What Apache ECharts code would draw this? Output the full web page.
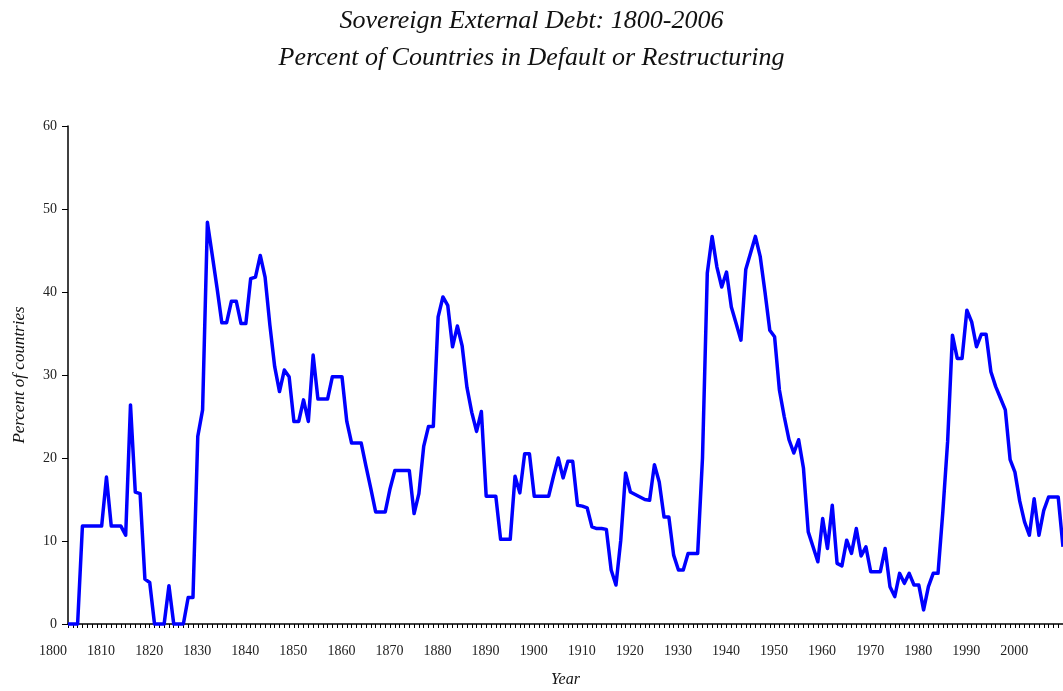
<!DOCTYPE html>
<html>
<head>
<meta charset="utf-8">
<script src="https://cdn.jsdelivr.net/npm/echarts@6/dist/echarts.min.js"></script>
<style>
  html, body { margin: 0; padding: 0; background: #fff; }
  #chart { width: 1063px; height: 691px; }
</style>
</head>
<body>
<div id="chart"></div>
<script>
// percent of countries in default or restructuring, one value per year from 1800
var defaultShare = [
  0, 0, 0, 11.8, 11.8, 11.8, 11.8, 11.8, 17.7, 11.8,
  11.8, 11.8, 10.7, 26.4, 15.9, 15.7, 5.4, 5.0, 0, 0,
  0, 4.6, 0, 0, 0, 3.2, 3.2, 22.6, 25.8, 48.4,
  44.5, 40.5, 36.3, 36.3, 38.9, 38.9, 36.2, 36.2, 41.6, 41.8,
  44.4, 41.8, 36.0, 31.0, 28.0, 30.6, 29.8, 24.4, 24.4, 27.0,
  24.4, 32.4, 27.1, 27.1, 27.1, 29.8, 29.8, 29.8, 24.4, 21.8,
  21.8, 21.8, 19.0, 16.3, 13.5, 13.5, 13.5, 16.3, 18.5, 18.5,
  18.5, 18.5, 13.3, 15.7, 21.4, 23.8, 23.8, 37.0, 39.4, 38.4,
  33.4, 35.9, 33.5, 28.5, 25.5, 23.2, 25.6, 15.4, 15.4, 15.4,
  10.2, 10.2, 10.2, 17.8, 15.8, 20.5, 20.5, 15.4, 15.4, 15.4,
  15.4, 17.8, 20.0, 17.6, 19.6, 19.6, 14.3, 14.2, 14.0, 11.7,
  11.5, 11.5, 11.4, 6.5, 4.7, 10.1, 18.2, 15.9, 15.6, 15.3,
  15.0, 14.9, 19.2, 17.1, 12.9, 12.9, 8.3, 6.5, 6.5, 8.5,
  8.5, 8.5, 20.0, 42.3, 46.7, 43.0, 40.6, 42.4, 38.2, 36.2,
  34.2, 42.7, 44.7, 46.7, 44.3, 40.0, 35.4, 34.6, 28.2, 25.0,
  22.2, 20.6, 22.2, 18.8, 11.1, 9.3, 7.5, 12.7, 9.1, 14.3,
  7.3, 7.0, 10.1, 8.5, 11.5, 8.2, 9.3, 6.3, 6.3, 6.3,
  9.1, 4.5, 3.3, 6.1, 4.9, 6.1, 4.7, 4.7, 1.7, 4.5,
  6.1, 6.1, 13.5, 22.0, 34.8, 32.0, 32.0, 37.8, 36.4, 33.4,
  34.9, 34.9, 30.4, 28.6, 27.2, 25.8, 19.8, 18.3, 14.8, 12.3,
  10.7, 15.1, 10.7, 13.7, 15.3, 15.3, 15.3, 9.3
];
var firstYear = 1800;
var years = defaultShare.map(function (v, i) { return firstYear + i; });
var yearLabels = [1800, 1810, 1820, 1830, 1840, 1850, 1860, 1870, 1880, 1890,
  1900, 1910, 1920, 1930, 1940, 1950, 1960, 1970, 1980, 1990, 2000];
var percentTicks = [0, 10, 20, 30, 40, 50, 60];

var serif = '"Liberation Serif", "DejaVu Serif", serif';
var chart = echarts.init(document.getElementById('chart'), null, { renderer: 'canvas' });

chart.setOption({
  animation: false,
  backgroundColor: '#fff',
  title: {
    text: 'Sovereign External Debt: 1800-2006\nPercent of Countries in Default or Restructuring',
    left: 'center',
    top: 3,
    padding: 0,
    textStyle: {
      fontFamily: serif,
      fontStyle: 'italic',
      fontWeight: 'normal',
      fontSize: 26,
      lineHeight: 37,
      color: '#111'
    }
  },
  grid: { left: 68, right: 0, top: 126, bottom: 67, outerBoundsMode: 'none', containLabel: false },
  xAxis: {
    type: 'value',
    min: firstYear,
    max: years[years.length - 1],
    name: 'Year',
    nameLocation: 'middle',
    nameGap: 48,
    nameTextStyle: { fontFamily: serif, fontStyle: 'italic', fontSize: 16, color: '#111' },
    splitLine: { show: false },
    axisLine: { lineStyle: { color: '#000', width: 1.5 } },
    axisTick: {
      customValues: years,
      length: 4,
      inside: false,
      lineStyle: { color: '#000', width: 1 }
    },
    axisLabel: {
      customValues: yearLabels,
      formatter: function (v) { return String(v); },
      margin: 20,
      padding: [0, 30, 0, 0],
      fontFamily: serif,
      fontSize: 14,
      color: '#222'
    }
  },
  yAxis: {
    type: 'value',
    min: 0,
    max: 60,
    interval: 10,
    name: 'Percent of countries',
    nameLocation: 'middle',
    nameRotate: 90,
    nameGap: 40,
    nameTextStyle: { fontFamily: serif, fontStyle: 'italic', fontSize: 17, color: '#111' },
    splitLine: { show: false },
    axisLine: { show: true, lineStyle: { color: '#000', width: 1.5 } },
    axisTick: { show: true, length: 6, lineStyle: { color: '#000' }, customValues: percentTicks },
    axisLabel: { margin: 11, fontFamily: serif, fontSize: 14, color: '#222' }
  },
  series: [{
    type: 'line',
    data: years.map(function (y, i) { return [y, defaultShare[i]]; }),
    showSymbol: false,
    symbol: 'none',
    clip: false,
    lineStyle: { color: '#0000ff', width: 3.5, join: 'round' },
    z: 1
  }]
});
</script>
</body>
</html>
